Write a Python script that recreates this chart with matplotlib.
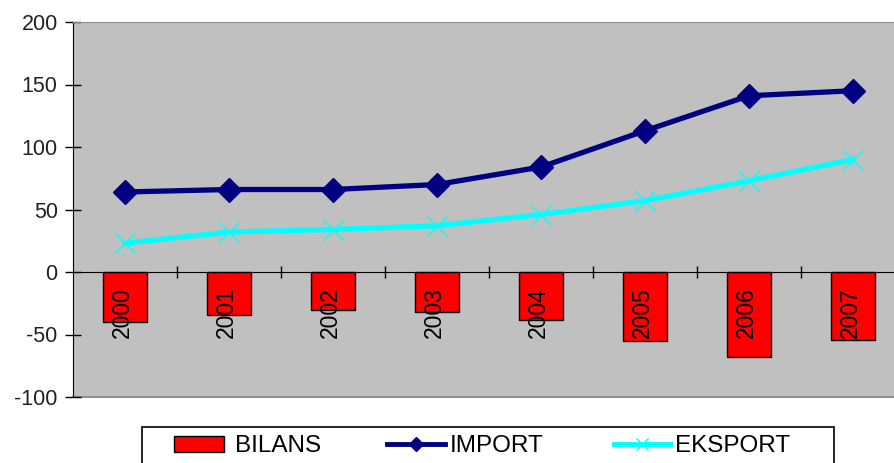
import matplotlib.pyplot as plt
from matplotlib.patches import Rectangle
from matplotlib.lines import Line2D

# data
years = ["2000", "2001", "2002", "2003", "2004", "2005", "2006", "2007"]
import_vals = [64, 66, 66, 70, 84, 113, 141, 145]
eksport_vals = [23, 32, 34, 37, 46, 57, 73, 90]
bilans_vals = [-40, -34, -30, -32, -38, -55, -68, -54]
y_ticks = [-100, -50, 0, 50, 100, 150, 200]
legend_names = ["BILANS", "IMPORT", "EKSPORT"]

plt.rcParams['font.family'] = ['Liberation Sans', 'DejaVu Sans']
plt.rcParams['axes.unicode_minus'] = False

W, H = 895, 463
fig = plt.figure(figsize=(W / 100, H / 100), dpi=100)
ax = fig.add_axes([73 / W, 1 - 397 / H, 832 / W, 375 / H])
ax.set_facecolor("#C0C0C0")

x = list(range(len(years)))

# bars for the balance
ax.bar(x, bilans_vals, width=0.42, color="#FF0000", edgecolor="black",
       linewidth=1, zorder=2)

# lines
ax.plot(x, import_vals, color="#000080", linewidth=3.8, marker="D",
        markersize=12.5, zorder=4)
ax.plot(x, eksport_vals, color="#00FFFF", linewidth=3.8, zorder=3)
ax.plot(x, eksport_vals, linestyle="none", marker="x", color="#00FFFF",
        markersize=15, markeredgewidth=1, zorder=3)

# year labels hanging under the zero line
for xi, yr in zip(x, years):
    ax.annotate(yr, (xi - 0.03, 0), xytext=(0, -11), textcoords="offset points",
                rotation=90, ha="center", va="top", fontsize=16.5, zorder=5)

ax.set_xlim(-0.5, len(years) - 0.5)
ax.set_ylim(-100, 200)
ax.set_yticks(y_ticks)
ax.tick_params(axis="y", direction="inout", length=12, width=1,
               labelsize=15.5, pad=5, colors="#222222")
ax.tick_params(axis="y", color="black")

# category axis at zero
ax.spines["bottom"].set_position(("data", 0))
ax.spines["bottom"].set_color("black")
ax.set_xticks([i + 0.5 for i in x])
ax.set_xticklabels([])
ax.tick_params(axis="x", direction="inout", length=8, width=1)
ax.spines["right"].set_visible(False)
ax.spines["top"].set_color("#909090")
ax.axhline(-100, color="#909090", linewidth=1.5, zorder=1, clip_on=False)

# legend box at the bottom, entries placed by hand
fig.patches.append(Rectangle((142 / W, -0.05), (834 - 142) / W, 0.05 + 1 - 427 / H,
                             transform=fig.transFigure, facecolor="white",
                             edgecolor="black", linewidth=1.2))
ly = 1 - 444 / H
fig.patches.append(Rectangle((174 / W, 1 - 452 / H), 50 / W, 16 / H,
                             transform=fig.transFigure, facecolor="#FF0000",
                             edgecolor="black", linewidth=1))
fig.lines.append(Line2D([387 / W, 445 / W], [ly, ly], transform=fig.transFigure,
                        color="#000080", linewidth=3.5))
fig.lines.append(Line2D([416 / W], [ly], transform=fig.transFigure,
                        color="#000080", marker="D", markersize=7))
fig.lines.append(Line2D([614 / W, 670 / W], [ly, ly], transform=fig.transFigure,
                        color="#00FFFF", linewidth=3.5))
fig.lines.append(Line2D([642 / W], [ly], transform=fig.transFigure,
                        color="#00FFFF", marker="x", markersize=9,
                        markeredgewidth=1))
for tx, name in zip([235, 450, 675], legend_names):
    fig.text(tx / W, ly, name, fontsize=17.5, ha="left", va="center_baseline")

fig.savefig("out.png", dpi=100)
